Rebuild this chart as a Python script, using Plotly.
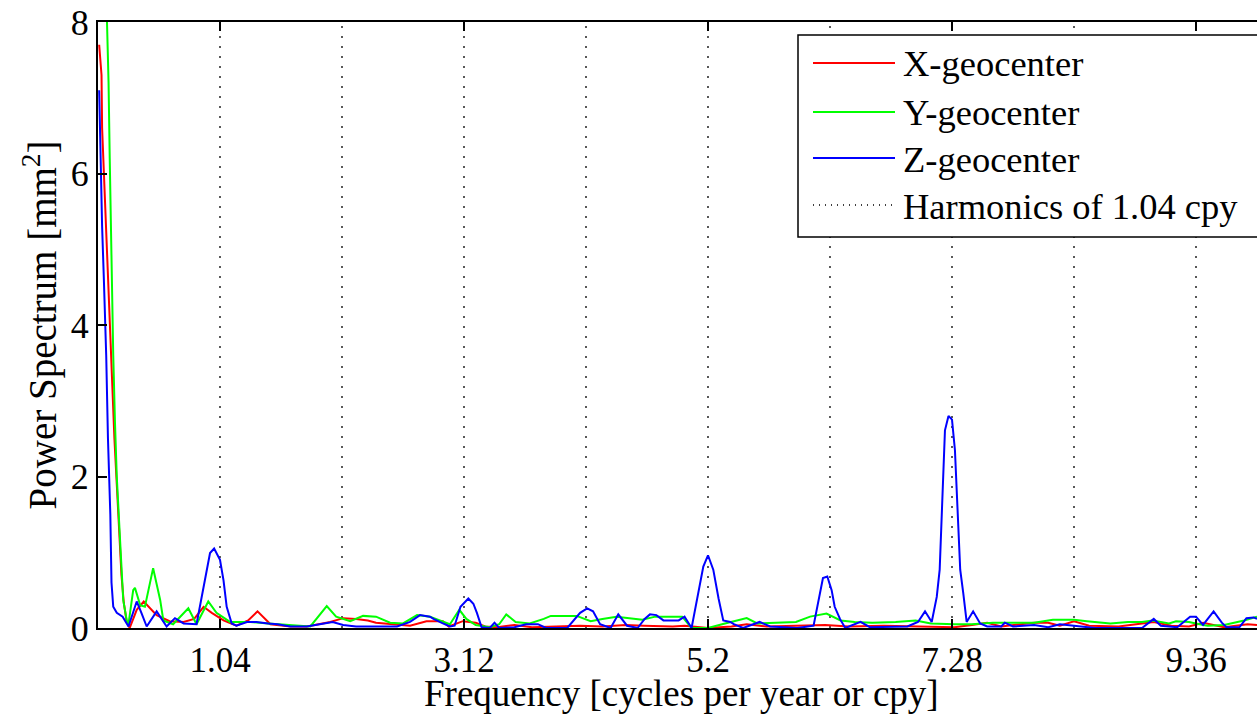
import plotly.graph_objects as go

# ---- data ----
freq_x = [0.01, 0.03, 0.035, 0.06, 0.08, 0.10, 0.12, 0.14, 0.16, 0.18, 0.20, 0.22, 0.245, 0.27,
          0.33, 0.39, 0.5, 0.61, 0.73, 0.82, 0.9, 0.97, 1.07, 1.18, 1.28, 1.36, 1.47, 1.64, 1.78,
          1.98, 2.09, 2.2, 2.3, 2.37, 2.55, 2.66, 2.8, 2.94, 2.99, 3.11, 3.22, 3.3, 3.4, 3.55, 3.7,
          4.11, 4.3, 4.5, 4.65, 4.9, 5.0, 5.2, 5.4, 5.53, 5.7, 6.0, 6.2, 6.4, 6.7, 7.0, 7.3, 7.45,
          7.58, 7.7, 7.98, 8.1, 8.2, 8.32, 8.45, 8.7, 9.0, 9.15, 9.3, 9.42, 9.6, 9.8, 9.88]
power_x = [7.7, 7.3, 6.6, 5.6, 4.9, 4.1, 3.2, 2.5, 1.9, 1.2, 0.7, 0.33, 0.08, 0.0,
           0.24, 0.35, 0.17, 0.09, 0.08, 0.12, 0.28, 0.2, 0.1, 0.03, 0.1, 0.22, 0.05, 0.02, 0.02,
           0.08, 0.13, 0.12, 0.1, 0.07, 0.05, 0.03, 0.09, 0.09, 0.02, 0.09, 0.07, 0.02, 0.01, 0.04, 0.01,
           0.03, 0.02, 0.04, 0.03, 0.02, 0.03, 0.0, 0.02, 0.05, 0.02, 0.03, 0.04, 0.02, 0.03, 0.02, 0.01, 0.04,
           0.07, 0.02, 0.07, 0.07, 0.03, 0.09, 0.03, 0.02, 0.08, 0.03, 0.02, 0.07, 0.01, 0.05, 0.04]

freq_y = [0.01, 0.075, 0.09, 0.10, 0.115, 0.13, 0.145, 0.16, 0.18, 0.2, 0.215, 0.245, 0.26, 0.3,
          0.315, 0.36, 0.40, 0.47, 0.53, 0.557, 0.64, 0.77, 0.84, 0.94, 1.01, 1.125, 1.3, 1.45,
          1.64, 1.81, 1.95, 2.03, 2.15, 2.26, 2.37, 2.49, 2.6, 2.72, 2.83, 2.94, 3.0, 3.08, 3.14,
          3.22, 3.34, 3.42, 3.48, 3.56, 3.68, 3.8, 3.86, 4.08, 4.2, 4.3, 4.42, 4.53, 4.64, 4.75,
          4.98, 5.06, 5.2, 5.32, 5.44, 5.53, 5.62, 5.77, 5.95, 6.07, 6.21, 6.33, 6.45, 6.6, 6.8,
          6.97, 7.1, 7.3, 7.45, 7.63, 7.98, 8.14, 8.32, 8.43, 8.55, 8.63, 8.78, 8.9, 8.99, 9.13,
          9.19, 9.3, 9.42, 9.46, 9.6, 9.77, 9.88]
power_y = [12.0, 8.3, 7.2, 6.2, 4.8, 3.6, 2.7, 2.0, 1.4, 0.72, 0.37, 0.1, 0.05, 0.5,
           0.53, 0.3, 0.28, 0.79, 0.37, 0.1, 0.05, 0.26, 0.05, 0.35, 0.2, 0.08, 0.08, 0.06,
           0.04, 0.02, 0.29, 0.15, 0.09, 0.16, 0.15, 0.07, 0.06, 0.17, 0.15, 0.09, 0.05, 0.24, 0.12,
           0.04, 0.01, 0.05, 0.18, 0.08, 0.06, 0.12, 0.16, 0.16, 0.09, 0.12, 0.15, 0.13, 0.11, 0.15,
           0.15, 0.0, 0.0, 0.05, 0.09, 0.13, 0.06, 0.07, 0.08, 0.15, 0.19, 0.1, 0.08, 0.07, 0.08,
           0.1, 0.06, 0.05, 0.05, 0.07, 0.07, 0.11, 0.11, 0.09, 0.07, 0.06, 0.08, 0.08, 0.1, 0.06,
           0.09, 0.08, 0.04, 0.03, 0.04, 0.1, 0.15]

freq_z = [0.01, 0.02, 0.035, 0.05, 0.07, 0.085, 0.105, 0.115, 0.13, 0.16, 0.21, 0.26, 0.33,
          0.37, 0.415, 0.5, 0.585, 0.656, 0.73, 0.84, 0.9, 0.955, 0.99, 1.04, 1.07, 1.097, 1.14,
          1.18, 1.27, 1.35, 1.45, 1.53, 1.64, 1.78, 2.0, 2.09, 2.2, 2.55, 2.66, 2.745, 2.83, 2.86,
          2.94, 3.0, 3.04, 3.09, 3.157, 3.2, 3.23, 3.27, 3.34, 3.38, 3.42, 3.55, 3.65, 3.75, 3.82,
          4.0, 4.11, 4.17, 4.22, 4.28, 4.37, 4.435, 4.51, 4.6, 4.66, 4.705, 4.76, 4.82, 4.95, 5.0,
          5.06, 5.117, 5.16, 5.2, 5.245, 5.29, 5.33, 5.39, 5.42, 5.5, 5.64, 5.73, 5.96, 6.1, 6.14,
          6.18, 6.217, 6.254, 6.28, 6.325, 6.37, 6.5, 6.58, 6.9, 6.99, 7.05, 7.107, 7.15, 7.175,
          7.19, 7.2, 7.22, 7.25, 7.28, 7.305, 7.32, 7.335, 7.35, 7.376, 7.405, 7.46, 7.52, 7.58,
          7.7, 7.73, 7.8, 7.98, 8.1, 8.2, 8.32, 8.5, 8.9, 9.0, 9.06, 9.2, 9.31, 9.36, 9.42, 9.51,
          9.58, 9.62, 9.73, 9.79, 9.85, 9.88]
power_z = [7.1, 6.2, 5.3, 4.6, 3.6, 2.5, 1.5, 0.6, 0.28, 0.2, 0.15, 0.02, 0.35,
           0.2, 0.02, 0.22, 0.02, 0.13, 0.06, 0.05, 0.55, 0.99, 1.05, 0.9, 0.63, 0.28, 0.06,
           0.03, 0.08, 0.08, 0.06, 0.05, 0.02, 0.02, 0.08, 0.04, 0.02, 0.02, 0.08, 0.17, 0.15, 0.12,
           0.06, 0.02, 0.03, 0.28, 0.39, 0.32, 0.2, 0.01, 0.0, 0.07, 0.0, 0.01, 0.05, 0.05, 0.0,
           0.0, 0.2, 0.26, 0.22, 0.05, 0.0, 0.18, 0.03, 0.0, 0.12, 0.18, 0.17, 0.1, 0.1, 0.15,
           0.0, 0.45, 0.81, 0.96, 0.77, 0.39, 0.1, 0.08, 0.05, 0.0, 0.08, 0.02, 0.0, 0.03, 0.33,
           0.66, 0.68, 0.5, 0.28, 0.12, 0.0, 0.08, 0.01, 0.02, 0.08, 0.22, 0.08, 0.41, 0.77,
           1.43, 1.95, 2.61, 2.8, 2.75, 2.35, 1.87, 1.25, 0.77, 0.46, 0.08, 0.22, 0.06, 0.02,
           0.02, 0.07, 0.02, 0.04, 0.01, 0.05, 0.03, 0.0, 0.0, 0.12, 0.03, 0.01, 0.15, 0.15, 0.04, 0.22,
           0.07, 0.01, 0.01, 0.13, 0.14, 0.12]

harmonics = [1.04, 2.08, 3.12, 4.16, 5.2, 6.24, 7.28, 8.32, 9.36]
tick_vals = [1.04, 3.12, 5.2, 7.28, 9.36]
tick_text = ["1.04", "3.12", "5.2", "7.28", "9.36"]
y_ticks = [0, 2, 4, 6, 8]

x_title = "Frequency [cycles per year or cpy]"
y_title = "Power Spectrum [mm<sup>2</sup>]"
series_names = ["X-geocenter", "Y-geocenter", "Z-geocenter"]
series_colors = ["#ff0000", "#00ff00", "#0000ff"]
harm_name = "Harmonics of 1.04 cpy"

FONT = "Liberation Serif, Times New Roman, serif"
DOT = "2px,8px"

fig = go.Figure()

# harmonic dotted lines
hx, hy = [], []
for h in harmonics:
    hx += [h, h, None]
    hy += [0, 8, None]
fig.add_trace(go.Scatter(x=hx, y=hy, mode="lines", name=harm_name,
                         line=dict(color="black", width=1.3, dash=DOT),
                         showlegend=False, hoverinfo="skip"))

for fx, py, nm, col in [(freq_x, power_x, series_names[0], series_colors[0]),
                        (freq_y, power_y, series_names[1], series_colors[1]),
                        (freq_z, power_z, series_names[2], series_colors[2])]:
    fig.add_trace(go.Scatter(x=fx, y=py, mode="lines", name=nm,
                             line=dict(color=col, width=2), showlegend=False))

# plot area geometry (pixels)
W, H = 1257, 716
L, R, T, B = 98, 0, 22, 88
pw = W - L - R
ph = H - T - B
def px2x(p):
    return (p - L) / pw
def py2y(p):
    return (H - B - p) / ph

fig.update_layout(
    width=W, height=H,
    margin=dict(l=L, r=R, t=T, b=B),
    paper_bgcolor="white", plot_bgcolor="white",
    font=dict(family=FONT, color="black", size=36),
    showlegend=False,
    xaxis=dict(range=[0, 9.88], tickvals=tick_vals, ticktext=tick_text,
               ticks="inside", ticklen=9, tickwidth=1.5, tickcolor="black",
               showline=True, linecolor="black", linewidth=2, mirror="ticks",
               showgrid=False, zeroline=False,
               tickfont=dict(size=35, family=FONT)),
    yaxis=dict(range=[0, 8], tickvals=y_ticks,
               ticks="inside", ticklen=9, tickwidth=1.5, tickcolor="black",
               showline=True, linecolor="black", linewidth=2, mirror=False,
               showgrid=False, zeroline=False,
               tickfont=dict(size=36, family=FONT),
               title=dict(text=y_title, font=dict(size=39, family=FONT), standoff=2)),
)

# x-axis title as annotation for precise vertical placement
fig.add_annotation(xref="paper", yref="paper", x=px2x(681), y=py2y(693),
                   xanchor="center", yanchor="middle", text=x_title, showarrow=False,
                   font=dict(size=37, family=FONT, color="black"))

# manual legend box (MATLAB-style)
fig.add_shape(type="rect", xref="paper", yref="paper",
              x0=px2x(798), x1=px2x(1275), y0=py2y(237), y1=py2y(35),
              line=dict(color="black", width=1.5), fillcolor="white", layer="above")

rows_py = [63, 112, 158, 205]
labels = series_names + [harm_name]
styles = [dict(color=c, width=2) for c in series_colors] + [dict(color="black", width=1.3, dash="1px,5px")]
for ypx, lab, st in zip(rows_py, labels, styles):
    fig.add_shape(type="line", xref="paper", yref="paper",
                  x0=px2x(813), x1=px2x(895), y0=py2y(ypx), y1=py2y(ypx),
                  line=st, layer="above")
    fig.add_annotation(xref="paper", yref="paper", x=px2x(901), y=py2y(ypx + 1),
                       xanchor="left", yanchor="middle", text=lab, showarrow=False,
                       font=dict(size=36.5, family=FONT, color="black"))

fig.write_html("out.html")
